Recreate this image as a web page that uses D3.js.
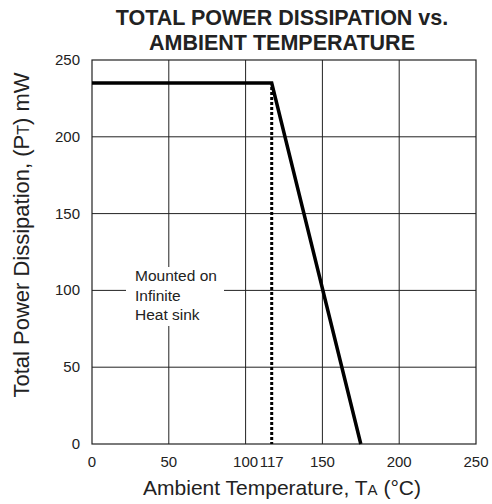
<!DOCTYPE html>
<html>
<head>
<meta charset="UTF-8">
<script src="https://d3js.org/d3.v7.min.js"></script>
<style>
    body { margin: 0; background: #fff; }
    text { font-family: Arial, 'Liberation Sans', sans-serif; fill: #222; }
</style>
</head>
<body>
<svg id="chart" width="492" height="504"></svg>
<script>
// curve data
var tempPoints = [0, 117, 175];
var powerPoints = [235, 235, 0];
var kneeTemp = 117;
var xTicks = [0, 50, 100, 117, 150, 200, 250];
var yTicks = [0, 50, 100, 150, 200, 250];
var gridX = [50, 100, 150, 200];
var gridY = [50, 100, 150, 200];
var noteLines = ["Mounted on", "Infinite", "Heat sink"];

var margin = { left: 92, top: 60, right: 16, bottom: 60 };
var width = 384, height = 384;

var svg = d3.select("#chart");
var g = svg.append("g").attr("transform", "translate(" + margin.left + "," + margin.top + ")");

var x = d3.scaleLinear().domain([0, 250]).range([0, width]);
var y = d3.scaleLinear().domain([0, 250]).range([height, 0]);

// grid
g.selectAll(".gx").data(gridX).enter().append("line")
    .attr("x1", d => x(d)).attr("x2", d => x(d))
    .attr("y1", 0).attr("y2", height)
    .attr("stroke", "#222").attr("stroke-width", 1);
g.selectAll(".gy").data(gridY).enter().append("line")
    .attr("x1", 0).attr("x2", width)
    .attr("y1", d => y(d)).attr("y2", d => y(d))
    .attr("stroke", "#222").attr("stroke-width", 1);

// note box hides the grid behind it
g.append("rect")
    .attr("x", 34).attr("y", 207).attr("width", 98).attr("height", 59)
    .attr("fill", "#fff");
g.append("text")
    .attr("x", 43).attr("y", 221)
    .style("font-size", "15.5px")
    .selectAll("tspan").data(noteLines).enter().append("tspan")
    .attr("x", 43).attr("dy", (d, i) => i === 0 ? 0 : 19.5)
    .text(d => d);

// frame
g.append("rect")
    .attr("x", 0).attr("y", 0).attr("width", width).attr("height", height)
    .attr("fill", "none").attr("stroke", "#222").attr("stroke-width", 1.2);

// dotted knee line
g.append("line")
    .attr("x1", x(kneeTemp)).attr("x2", x(kneeTemp))
    .attr("y1", y(powerPoints[1]) + 4).attr("y2", height)
    .attr("stroke", "#000").attr("stroke-width", 3)
    .attr("stroke-dasharray", "3,2");

// derating curve
var line = d3.line().x((d, i) => x(tempPoints[i])).y(d => y(d));
g.append("path")
    .attr("d", line(powerPoints))
    .attr("fill", "none").attr("stroke", "#000").attr("stroke-width", 3.5)
    .attr("stroke-linejoin", "miter");

// tick labels
g.selectAll(".xt").data(xTicks).enter().append("text")
    .attr("x", d => x(d)).attr("y", height + 23)
    .attr("text-anchor", "middle")
    .style("font-size", "15px")
    .text(d => d);
g.selectAll(".yt").data(yTicks).enter().append("text")
    .attr("x", -12).attr("y", d => y(d) + 5)
    .attr("text-anchor", "end")
    .style("font-size", "15px")
    .text(d => d);

// titles
svg.append("text")
    .attr("x", 282).attr("y", 25)
    .attr("text-anchor", "middle")
    .style("font-size", "21.5px").style("font-weight", "bold")
    .text("TOTAL POWER DISSIPATION vs.");
svg.append("text")
    .attr("x", 282).attr("y", 50)
    .attr("text-anchor", "middle")
    .style("font-size", "21.5px").style("font-weight", "bold")
    .text("AMBIENT TEMPERATURE");

var xl = svg.append("text")
    .attr("x", 282).attr("y", 495)
    .attr("text-anchor", "middle")
    .style("font-size", "21px");
xl.append("tspan").text("Ambient Temperature, T");
xl.append("tspan").style("font-size", "15px").text("A");
xl.append("tspan").text(" (°C)");

var yl = svg.append("text")
    .attr("transform", "translate(29,235) rotate(-90)")
    .attr("text-anchor", "middle")
    .style("font-size", "22px");
yl.append("tspan").text("Total Power Dissipation, (P");
yl.append("tspan").style("font-size", "16px").text("T");
yl.append("tspan").text(") mW");
</script>
</body>
</html>
